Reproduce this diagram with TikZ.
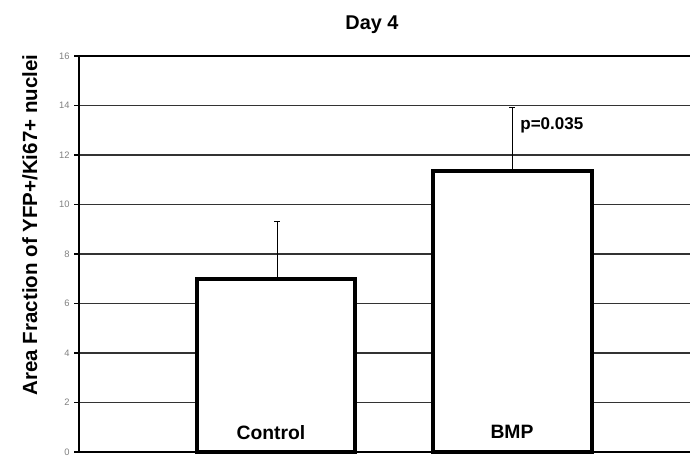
\documentclass[tikz,border=0pt]{standalone}
\usepackage{fontspec}
\setmainfont{Liberation Sans}
\usetikzlibrary{calc}
\definecolor{gridgray}{gray}{0.2}
\definecolor{ticklabelgray}{gray}{0.5}

\begin{document}
\begin{tikzpicture}[x=0.03cm, y=0.03cm]
	\useasboundingbox (0,0) rectangle (690,456);
	\node (title) at (372,431) {\fontsize{17}{19}\selectfont\bfseries Day 4};
	\node[rotate=90] (ylabel) at (30,231) {\fontsize{17.5}{19}\selectfont\bfseries Area Fraction of YFP+/Ki67+ nuclei};

	\begin{scope}[shift={(79,4)}, y=0.7425cm]
	% grid and ticks
	\foreach \v in {2,4,...,14} {
		\draw[line width=1.3pt, gridgray] (0,\v) -- (611,\v);
	}
	\draw[line width=2pt] (0,16) -- (611,16);
	\foreach \v in {0,2,...,16} {
		\draw[line width=1.2pt] (-5,\v) -- (0,\v);
		\node[anchor=east, inner sep=1pt, text=ticklabelgray] (tick\v) at (-8,\v) {\fontsize{8}{9}\selectfont \v};
	}

	\coordinate (errc) at (198,9.33);
	\coordinate (errb) at (433,13.9);
	\draw[line width=0.8pt] (198,7) -- (errc);
	\draw[line width=0.8pt] ($(errc)+(-3,0)$) -- ($(errc)+(3,0)$);
	\draw[line width=0.8pt] (433,11.35) -- (errb);
	\draw[line width=0.8pt] ($(errb)+(-3,0)$) -- ($(errb)+(3,0)$);

	\draw[line width=3.2pt, fill=white] (118,0) rectangle (276,7.0);
	\draw[line width=3.2pt, fill=white] (354,0) rectangle (513,11.35);

	\draw[line width=2.4pt] (0,16) -- (0,0) -- (611,0);

	\node (control) at (192,0.8) {\fontsize{16.5}{18}\selectfont\bfseries Control};
	\node (bmp) at (433,0.8) {\fontsize{16.5}{18}\selectfont\bfseries BMP};
	\node[anchor=west, inner sep=1pt] (pval) at (440,13.2) {\fontsize{14.5}{16}\selectfont\bfseries p=0.035};
	\end{scope}
\end{tikzpicture}
\end{document}
